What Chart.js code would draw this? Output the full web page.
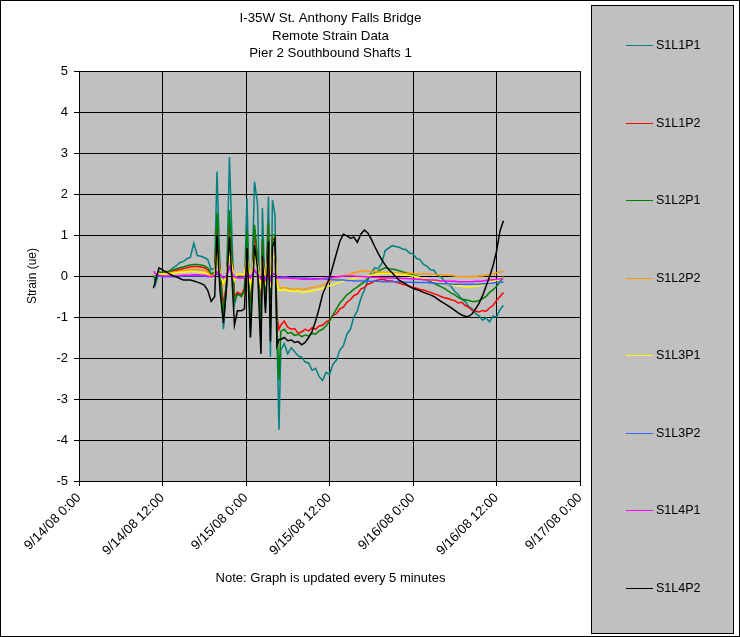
<!DOCTYPE html>
<html>
<head>
<meta charset="utf-8">
<script src="https://cdn.jsdelivr.net/npm/chart.js@4.4.1/dist/chart.umd.min.js"></script>
<style>
  html, body { margin: 0; padding: 0; background: #fff; }
  #wrap { width: 740px; height: 637px; }
</style>
</head>
<body>
<div id="wrap"><canvas id="chart" width="740" height="637"></canvas></div>
<script>
"use strict";

// hours since 9/14/08 0:00
const hours = [
  10.7, 11, 11.5, 12, 12.5, 13, 13.5, 14, 14.5, 15, 15.5, 16, 16.5, 17, 17.5, 18, 18.5, 19, 19.5,
  19.83, 20.26, 20.76, 21.19, 21.62, 22.05, 22.34, 22.77, 23.35, 23.78, 24.14, 24.64,
  25.22, 25.65, 26.15, 26.36, 26.8, 27.23, 27.51, 27.8, 28.16, 28.45, 28.74,
  29, 29.5, 30, 30.5, 31, 31.5, 32, 32.5, 33, 33.5, 34, 34.5, 35, 35.5, 36, 36.5,
  37, 37.5, 38, 38.5, 39, 39.5, 40, 40.5, 41, 41.5, 42, 42.5, 43, 43.5, 44, 44.5,
  45, 45.5, 46, 46.5, 47, 47.5, 48, 48.5, 49, 49.5, 50, 50.5, 51, 51.5, 52, 52.5,
  53, 53.5, 54, 54.5, 55, 55.5, 56, 56.5, 57, 57.5, 58, 58.5, 59, 59.5, 60, 60.5, 61
];

const s1l1p1 = [
  0.05, -0.2, 0.1, 0.05, 0.1, 0.12, 0.2, 0.25, 0.33, 0.35, 0.42, 0.45, 0.8, 0.5, 0.48, 0.45, 0.4, 0.15, 0.2,
  2.55, 0.2, -1.3, -0.3, 2.9, 0.6, -0.7, -0.4, -0.5, -0.3, 1.9, -1.5,
  2.3, 1.78, -1.72, 1.65, -0.8, 1.93, -1.97, 1.85, 1.5, -1.5, -3.75,
  -1.8, -1.65, -1.9, -1.75, -1.85, -1.95, -1.98, -2.1, -2.12, -2.3, -2.25, -2.45, -2.55, -2.35, -2.4, -2.15,
  -2.05, -1.8, -1.7, -1.42, -1.3, -1.0, -0.85, -0.55, -0.35, -0.1, 0.08, 0.2, 0.18, 0.3, 0.62, 0.68,
  0.74, 0.72, 0.7, 0.66, 0.64, 0.56, 0.54, 0.43, 0.4, 0.28, 0.24, 0.15, 0.14, 0.02, -0.02, -0.12,
  -0.2, -0.26, -0.38, -0.45, -0.57, -0.62, -0.75, -0.8, -0.92, -0.97, -1.08, -1.02, -1.12, -0.98, -1.0, -0.82, -0.72
];
const s1l1p2 = [
  0.02, -0.05, 0.08, 0.06, 0.08, 0.1, 0.12, 0.14, 0.16, 0.18, 0.2, 0.22, 0.23, 0.23, 0.22, 0.2, 0.15, 0.02, 0.08,
  1.35, 0.1, -0.7, -0.2, 1.37, 0.3, -0.5, -0.4, -0.45, -0.3, 0.9, -0.9,
  1.1, 0.4, -1.0, 0.8, -0.5, 1.2, -1.1, 0.9, 0.9, -1.0, -1.3,
  -1.2, -1.1, -1.25, -1.3, -1.28, -1.4, -1.36, -1.3, -1.34, -1.26, -1.3, -1.22, -1.2, -1.12, -1.08, -0.96,
  -0.92, -0.8, -0.76, -0.64, -0.58, -0.48, -0.44, -0.32, -0.28, -0.2, -0.17, -0.12, -0.1, -0.08, -0.1, -0.12,
  -0.12, -0.15, -0.17, -0.2, -0.22, -0.26, -0.28, -0.3, -0.33, -0.34, -0.37, -0.4, -0.43, -0.46, -0.5, -0.53,
  -0.55, -0.58, -0.6, -0.66, -0.64, -0.72, -0.76, -0.84, -0.86, -0.88, -0.84, -0.86, -0.78, -0.72, -0.6, -0.5, -0.4
];
const s1l2p1 = [
  0.0, -0.1, 0.1, 0.08, 0.1, 0.12, 0.15, 0.18, 0.2, 0.22, 0.25, 0.27, 0.28, 0.28, 0.27, 0.25, 0.2, 0.05, 0.1,
  1.55, 0.1, -0.9, -0.2, 1.6, 0.3, -0.6, -0.45, -0.5, -0.35, 1.1, -1.07,
  1.25, 0.5, -1.2, 0.9, -0.6, 1.3, -1.3, 1.0, 1.0, -1.2, -2.55,
  -1.35, -1.3, -1.4, -1.38, -1.45, -1.42, -1.48, -1.44, -1.46, -1.4, -1.42, -1.34, -1.3, -1.22, -1.1, -0.95,
  -0.8, -0.66, -0.56, -0.46, -0.4, -0.32, -0.27, -0.2, -0.15, -0.06, 0.0, 0.08, 0.12, 0.16, 0.2, 0.18,
  0.17, 0.15, 0.13, 0.1, 0.08, 0.05, 0.03, 0.0, -0.03, -0.07, -0.1, -0.14, -0.18, -0.22, -0.26, -0.3,
  -0.36, -0.42, -0.46, -0.52, -0.56, -0.58, -0.6, -0.62, -0.62, -0.6, -0.55, -0.5, -0.4, -0.34, -0.25, -0.15, 0.0
];
const s1l2p2 = [
  0.05, 0.0, 0.06, 0.05, 0.07, 0.08, 0.09, 0.1, 0.12, 0.13, 0.14, 0.15, 0.16, 0.16, 0.15, 0.14, 0.1, 0.0, 0.05,
  0.75, 0.1, -0.2, 0.0, 0.7, 0.2, -0.1, 0.05, 0.0, 0.05, 0.5, -0.2,
  0.6, 0.3, -0.3, 0.4, -0.1, 0.65, -0.2, 0.5, 0.55, -0.1, -0.3,
  -0.3, -0.28, -0.3, -0.31, -0.32, -0.3, -0.33, -0.31, -0.3, -0.28, -0.27, -0.25, -0.22, -0.18, -0.13, -0.09,
  -0.05, -0.02, 0.0, 0.03, 0.05, 0.08, 0.1, 0.12, 0.12, 0.11, 0.1, 0.11, 0.1, 0.09, 0.08, 0.09,
  0.08, 0.07, 0.07, 0.06, 0.06, 0.07, 0.06, 0.05, 0.05, 0.06, 0.05, 0.04, 0.04, 0.03, 0.03, 0.02,
  0.02, 0.01, 0.0, -0.01, -0.02, -0.02, -0.02, -0.01, -0.01, 0.0, 0.0, 0.02, 0.03, 0.05, 0.08, 0.1, 0.12
];
const s1l3p1 = [
  0.05, 0.0, 0.05, 0.04, 0.05, 0.06, 0.07, 0.08, 0.09, 0.1, 0.1, 0.11, 0.11, 0.1, 0.09, 0.08, 0.05, -0.05, 0.02,
  0.6, 0.05, -0.17, 0.0, 0.55, 0.15, -0.1, 0.05, 0.05, 0.02, 0.47, -0.2,
  0.55, 0.25, -0.25, 0.35, -0.15, 0.5, -0.3, 0.45, 0.5, -0.2, -0.35,
  -0.35, -0.33, -0.36, -0.37, -0.38, -0.36, -0.4, -0.39, -0.38, -0.36, -0.34, -0.32, -0.3, -0.27, -0.24, -0.21,
  -0.18, -0.15, -0.12, -0.1, -0.08, -0.06, -0.05, -0.03, -0.02, 0.0, 0.02, 0.04, 0.05, 0.06, 0.06, 0.06,
  0.05, 0.05, 0.04, 0.03, 0.02, 0.01, 0.0, -0.02, -0.04, -0.06, -0.08, -0.1, -0.12, -0.14, -0.16, -0.18,
  -0.2, -0.22, -0.23, -0.24, -0.25, -0.26, -0.26, -0.26, -0.25, -0.24, -0.22, -0.19, -0.16, -0.13, -0.1, -0.07, -0.04
];
const s1l3p2 = [
  0.0, 0.0, 0.0, -0.02, -0.02, -0.02, -0.02, -0.02, -0.01, 0.0, 0.0, 0.0, 0.0, 0.0, 0.0, 0.0, -0.02, -0.02, 0.0,
  0.05, 0.0, -0.05, 0.0, 0.2, 0.05, -0.02, -0.03, -0.03, -0.03, 0.1, -0.03,
  0.12, 0.03, -0.05, 0.05, -0.05, 0.1, -0.05, 0.05, 0.05, -0.03, -0.03,
  -0.03, -0.02, -0.03, -0.04, -0.04, -0.05, -0.05, -0.05, -0.06, -0.06, -0.06, -0.07, -0.07, -0.08, -0.08, -0.09,
  -0.1, -0.1, -0.1, -0.11, -0.11, -0.12, -0.12, -0.12, -0.12, -0.13, -0.13, -0.13, -0.13, -0.14, -0.14, -0.14,
  -0.14, -0.14, -0.14, -0.15, -0.15, -0.15, -0.15, -0.16, -0.16, -0.16, -0.16, -0.17, -0.17, -0.18, -0.18, -0.19,
  -0.19, -0.2, -0.2, -0.2, -0.2, -0.2, -0.2, -0.2, -0.2, -0.2, -0.19, -0.19, -0.18, -0.17, -0.16, -0.15, -0.15
];
const s1l4p1 = [
  0.12, 0.05, 0.02, 0.0, 0.0, 0.0, 0.0, 0.0, 0.01, 0.02, 0.02, 0.02, 0.03, 0.03, 0.02, 0.02, 0.0, -0.02, 0.0,
  0.1, 0.05, -0.05, 0.0, 0.23, 0.05, -0.02, -0.05, -0.05, -0.05, 0.1, -0.05,
  0.15, 0.05, -0.08, 0.05, -0.1, 0.1, -0.1, 0.05, 0.05, -0.05, -0.05,
  -0.05, -0.04, -0.05, -0.06, -0.06, -0.07, -0.08, -0.08, -0.08, -0.08, -0.08, -0.07, -0.06, -0.05, -0.04, -0.03,
  -0.02, -0.01, 0.0, 0.0, 0.0, 0.0, -0.01, -0.01, -0.02, -0.02, -0.03, -0.03, -0.03, -0.04, -0.04, -0.05,
  -0.05, -0.05, -0.05, -0.06, -0.06, -0.07, -0.07, -0.08, -0.08, -0.09, -0.09, -0.1, -0.1, -0.11, -0.12, -0.12,
  -0.13, -0.13, -0.13, -0.14, -0.14, -0.14, -0.14, -0.14, -0.13, -0.13, -0.12, -0.11, -0.1, -0.09, -0.08, -0.07, -0.06
];
const s1l4p2 = [
  -0.3, -0.1, 0.2, 0.15, 0.1, 0.05, 0.0, -0.02, -0.06, -0.1, -0.1, -0.1, -0.12, -0.15, -0.18, -0.22, -0.35, -0.62, -0.5,
  1.0, -0.35, -1.15, -0.3, 0.95, -0.27, -1.2, -0.85, -0.85, -0.8, 0.68, -1.5,
  0.75, 0.2, -1.9, 0.5, -0.9, 0.85, -1.6, 0.7, 0.9, -1.7, -1.55,
  -1.55, -1.5, -1.58, -1.56, -1.62, -1.6, -1.68, -1.62, -1.5, -1.35, -1.1, -0.8, -0.45, -0.25, -0.05, 0.25,
  0.55, 0.85, 1.02, 0.98, 0.92, 0.95, 0.82, 1.02, 1.12, 1.05, 0.9, 0.72, 0.55, 0.4, 0.27, 0.16,
  0.08, -0.02, -0.1, -0.15, -0.2, -0.26, -0.3, -0.33, -0.36, -0.4, -0.43, -0.46, -0.5, -0.56, -0.62, -0.67,
  -0.72, -0.78, -0.84, -0.9, -0.95, -0.98, -0.99, -0.92, -0.8, -0.66, -0.48, -0.25, -0.02, 0.25, 0.6, 1.1, 1.35
];

const seriesNames = ['S1L1P1', 'S1L1P2', 'S1L2P1', 'S1L2P2', 'S1L3P1', 'S1L3P2', 'S1L4P1', 'S1L4P2'];
const seriesColors = ['#008080', '#FF0000', '#008000', '#FF9900', '#FFFF00', '#3366FF', '#FF00FF', '#000000'];
const seriesValues = [s1l1p1, s1l1p2, s1l2p1, s1l2p2, s1l3p1, s1l3p2, s1l4p1, s1l4p2];

const xTickLabels = ['9/14/08 0:00', '9/14/08 12:00', '9/15/08 0:00', '9/15/08 12:00',
  '9/16/08 0:00', '9/16/08 12:00', '9/17/08 0:00'];
const titleLines = ['I-35W St. Anthony Falls Bridge', 'Remote Strain Data', 'Pier 2 Southbound Shafts 1'];

const FONT = '"Liberation Sans", Arial, sans-serif';

// plot box in canvas pixels
const PLOT = { left: 79, right: 580, top: 71, bottom: 481 };

// background, frame, titles and the boxed legend, Excel style
const excelFrame = {
  id: 'excelFrame',
  beforeDraw(chart) {
    const c = chart.ctx;
    const a = chart.chartArea;
    c.save();
    c.fillStyle = '#fff';
    c.fillRect(0, 0, chart.width, chart.height);
    c.fillStyle = '#C0C0C0';
    c.fillRect(a.left, a.top, a.right - a.left, a.bottom - a.top);
    c.restore();
  },
  afterDraw(chart) {
    const c = chart.ctx;
    const a = chart.chartArea;
    const cx = (a.left + a.right) / 2;
    c.save();
    c.strokeStyle = '#000';
    c.lineWidth = 1;
    c.strokeRect(0.5, 0.5, chart.width - 1, chart.height - 1);

    c.fillStyle = '#000';
    c.textAlign = 'center';
    c.textBaseline = 'middle';
    c.font = '13.3px ' + FONT;
    titleLines.forEach((t, i) => c.fillText(t, cx + 1, 18.5 + i * 17.5));
    c.font = '13px ' + FONT;
    c.fillText('Note: Graph is updated every 5 minutes', cx + 1, 578);

    c.font = '12px ' + FONT;
    c.save();
    c.translate(33, (a.top + a.bottom) / 2);
    c.rotate(-Math.PI / 2);
    c.fillText('Strain (ue)', 0, 0);
    c.restore();

    // legend
    c.fillStyle = '#C0C0C0';
    c.fillRect(591, 5, 142, 628);
    c.strokeRect(591.5, 5.5, 142, 628);
    c.textAlign = 'left';
    c.font = '12.5px ' + FONT;
    seriesNames.forEach((name, i) => {
      const y = Math.round(45 + i * 77.5) + 0.5;
      c.strokeStyle = seriesColors[i];
      c.beginPath();
      c.moveTo(626, y);
      c.lineTo(653, y);
      c.stroke();
      c.fillStyle = '#000';
      c.fillText(name, 656, y);
    });
    c.restore();
  }
};

const datasets = seriesNames.map((name, i) => ({
  label: name,
  data: hours.map((h, j) => ({ x: h, y: seriesValues[i][j] })),
  borderColor: seriesColors[i],
  borderWidth: 1.5,
  pointRadius: 0,
  tension: 0,
  fill: false,
  order: seriesNames.length - i
}));

new Chart(document.getElementById('chart'), {
  type: 'line',
  data: { datasets: datasets },
  options: {
    responsive: false,
    animation: false,
    devicePixelRatio: 1,
    layout: { padding: { top: PLOT.top, right: 740 - PLOT.right, bottom: 0, left: 0 } },
    plugins: {
      legend: { display: false },
      title: { display: false },
      tooltip: { enabled: false }
    },
    scales: {
      x: {
        type: 'linear',
        min: 0,
        max: 72,
        afterFit(scale) { scale.height = 637 - PLOT.bottom; },
        ticks: {
          stepSize: 12,
          autoSkip: false,
          maxRotation: 45,
          minRotation: 45,
          color: '#000',
          font: { family: FONT, size: 13.3 },
          padding: 4,
          callback: v => xTickLabels[v / 12]
        },
        grid: { color: '#000', lineWidth: 1, tickLength: 5 },
        border: { color: '#000', width: 1 }
      },
      y: {
        min: -5,
        max: 5,
        afterFit(scale) { scale.width = PLOT.left; },
        ticks: {
          stepSize: 1,
          color: '#000',
          font: { family: FONT, size: 13 },
          padding: 6
        },
        grid: { color: '#000', lineWidth: 1, tickLength: 5 },
        border: { color: '#000', width: 1 }
      }
    }
  },
  plugins: [excelFrame]
});
</script>
</body>
</html>
